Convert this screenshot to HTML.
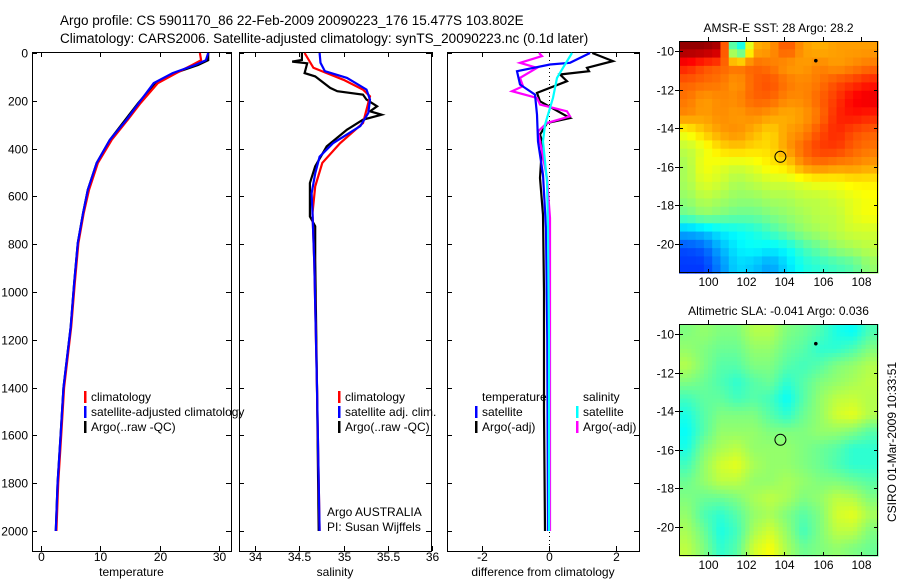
<!DOCTYPE html>
<html><head><meta charset="utf-8"><style>
body{margin:0;background:#fff;}
svg{display:block;font-family:"Liberation Sans",sans-serif;}
text{fill:#000;}
</style></head><body>
<svg id="c" width="900" height="580" xmlns="http://www.w3.org/2000/svg">
<text x="60" y="25" font-size="13.5">Argo profile: CS 5901170_86 22-Feb-2009 20090223_176 15.477S 103.802E</text>
<text x="60" y="43" font-size="13.5">Climatology: CARS2006. Satellite-adjusted climatology: synTS_20090223.nc (0.1d later)</text>
<text transform="translate(896,442) rotate(-90)" text-anchor="middle" font-size="12">CSIRO 01-Mar-2009 10:33:51</text>
</svg>
<script>
// ---- data ----
const depthTicks=[0,200,400,600,800,1000,1200,1400,1600,1800,2000];
const tempTicks=[0,10,20,30];
const salTicks=[34,34.5,35,35.5,36];
const diffTicks=[-2,0,2];
const tDepth=[0,30,50,84,126,209,280,364,460,573,670,795,962,1146,1400,1600,1800,2000];
const tempArgo=[28.2,28.2,26.5,22.5,19.3,16.4,14.2,11.6,9.4,7.9,7.1,6.2,5.6,5.0,3.8,3.3,2.8,2.5];
const tempClim=[26.8,27.0,25.5,22.8,19.7,16.8,14.6,11.9,9.6,8.1,7.2,6.3,5.7,5.1,3.9,3.4,2.9,2.6];
const tempSat=[28.2,27.8,26.0,22.2,19.0,16.5,14.4,11.6,9.4,7.9,7.1,6.2,5.6,5.0,3.8,3.3,2.8,2.5];
const sBlueD=[0,41,76,104,153,195,251,306,378,434,504,587,670,879,1400,2000];
const salSat=[34.73,34.74,34.79,35.04,35.26,35.30,35.28,35.19,34.88,34.73,34.68,34.64,34.65,34.67,34.70,34.73];
const sRedD=[0,62,84,112,153,181,223,293,378,460,558,670,879,1400,2000];
const salClim=[34.56,34.66,34.81,35.0,35.22,35.30,35.27,35.22,34.96,34.76,34.68,34.65,34.67,34.70,34.73];
const sBlkD=[0,29,36,43,84,98,146,160,174,195,223,244,258,279,321,391,474,544,684,725,865,1400,2000];
const salArgo=[34.53,34.53,34.42,34.59,34.56,34.68,34.85,34.93,35.22,35.26,35.38,35.30,35.43,35.22,35.04,34.81,34.68,34.62,34.62,34.68,34.68,34.70,34.72];
const dTBlkD=[0,34,62,76,90,118,167,202,272,293,342,370,523,677,1000,1500,2000];
const diffTArgo=[1.3,1.92,1.14,1.2,0.33,0.54,-0.36,-0.27,0.63,-0.06,-0.27,-0.2,-0.27,-0.18,-0.15,-0.15,-0.12];
const dTBluD=[0,41,48,76,132,174,258,370,509,733,1200,2000];
const diffTSat=[1.23,0.63,0.03,-0.96,-0.87,-0.42,-0.36,-0.33,-0.18,-0.09,-0.05,-0.03];
const dSMagD=[0,13,41,62,104,139,160,188,216,244,265,293,328,412,523,691,1200,2000];
const diffSArgo=[-0.3,-0.21,-0.87,-0.36,-0.87,-0.78,-1.11,-0.36,-0.27,0.54,0.63,-0.06,-0.33,-0.21,-0.06,0.03,0.03,0.03];
const dSCyaD=[0,62,104,188,230,300,370,537,733,1200,2000];
const diffSSat=[0.69,0.42,0.24,0.12,0.03,-0.12,-0.18,-0.06,-0.03,0.0,0.0];
const latTicks=[-10,-12,-14,-16,-18,-20];
const lonTicks=[100,102,104,106,108];
const sstGrid=[
[0.98,0.98,0.95,0.3,0.7,0.72,0.8,0.72,0.7,0.72,0.72,0.72],
[0.85,0.8,0.78,0.76,0.78,0.76,0.72,0.72,0.75,0.72,0.74,0.76],
[0.78,0.77,0.76,0.72,0.78,0.8,0.76,0.74,0.76,0.8,0.82,0.85],
[0.76,0.72,0.74,0.74,0.78,0.78,0.74,0.74,0.78,0.82,0.88,0.9],
[0.74,0.72,0.74,0.72,0.74,0.72,0.7,0.72,0.76,0.84,0.86,0.84],
[0.62,0.68,0.72,0.74,0.7,0.66,0.72,0.74,0.8,0.84,0.8,0.78],
[0.56,0.6,0.66,0.68,0.66,0.66,0.72,0.78,0.82,0.82,0.78,0.76],
[0.54,0.62,0.6,0.58,0.6,0.64,0.66,0.74,0.76,0.74,0.74,0.72],
[0.54,0.6,0.58,0.54,0.56,0.58,0.58,0.6,0.62,0.62,0.64,0.64],
[0.52,0.56,0.54,0.52,0.52,0.54,0.54,0.56,0.56,0.58,0.6,0.62],
[0.48,0.52,0.5,0.48,0.48,0.5,0.52,0.54,0.56,0.56,0.6,0.62],
[0.3,0.32,0.36,0.38,0.4,0.44,0.48,0.52,0.54,0.56,0.58,0.58],
[0.2,0.22,0.3,0.36,0.38,0.36,0.38,0.44,0.48,0.52,0.54,0.56],
[0.18,0.18,0.26,0.34,0.32,0.28,0.34,0.4,0.42,0.44,0.46,0.52]];
const slaGrid=[
[0.5,0.52,0.5,0.5,0.55,0.55,0.5,0.48,0.45,0.4,0.38,0.45],
[0.52,0.5,0.48,0.48,0.52,0.52,0.48,0.46,0.42,0.42,0.45,0.5],
[0.55,0.5,0.46,0.46,0.5,0.5,0.46,0.44,0.46,0.5,0.52,0.55],
[0.5,0.48,0.45,0.42,0.46,0.48,0.42,0.46,0.5,0.52,0.54,0.56],
[0.44,0.47,0.47,0.44,0.46,0.44,0.38,0.46,0.52,0.56,0.57,0.55],
[0.4,0.46,0.5,0.5,0.5,0.46,0.42,0.48,0.52,0.58,0.6,0.55],
[0.38,0.46,0.52,0.52,0.52,0.5,0.5,0.5,0.52,0.52,0.5,0.46],
[0.4,0.5,0.54,0.56,0.52,0.52,0.52,0.5,0.48,0.46,0.42,0.42],
[0.44,0.52,0.58,0.6,0.54,0.52,0.52,0.5,0.48,0.45,0.42,0.42],
[0.48,0.52,0.56,0.56,0.52,0.52,0.54,0.52,0.5,0.5,0.48,0.46],
[0.5,0.48,0.48,0.5,0.54,0.56,0.54,0.5,0.52,0.56,0.55,0.5],
[0.52,0.45,0.42,0.46,0.52,0.54,0.5,0.46,0.5,0.58,0.6,0.54],
[0.54,0.48,0.4,0.44,0.54,0.58,0.52,0.44,0.5,0.56,0.56,0.5],
[0.56,0.5,0.42,0.46,0.58,0.62,0.54,0.48,0.5,0.52,0.5,0.48]];
const floatLon=103.8, floatLat=-15.48;

// ---- drawing ----
const NS='http://www.w3.org/2000/svg';
const svg=document.getElementById('c');
function mk(tag,attrs,parent){const e=document.createElementNS(NS,tag);for(const k in attrs)e.setAttribute(k,attrs[k]);(parent||svg).appendChild(e);return e;}
const Y0=53, YS=0.239, TOP=52, BOT=551;
const yD=d=>Y0+d*YS;
const panels=[
 {name:'temperature',x0:32,x1:231,f:v=>41+5.93*v,ticks:tempTicks,label:'temperature'},
 {name:'salinity',x0:239,x1:431,f:v=>255+88.5*(v-34),ticks:salTicks,label:'salinity'},
 {name:'difference',x0:447,x1:639,f:v=>549+33.3*v,ticks:diffTicks,label:'difference from climatology'}];
panels.forEach((p,i)=>{
 const g=mk('g',{});
 
 
 const r=mk('rect',{x:p.x0+0.5,y:TOP+0.5,width:p.x1-p.x0,height:BOT-TOP,fill:'none',stroke:'#000','stroke-width':1},g);
 
 
 depthTicks.forEach(d=>{const y=Math.round(yD(d))+0.5;
  mk('line',{x1:p.x0,x2:p.x0+5,y1:y,y2:y,stroke:'#000'},g);
  mk('line',{x1:p.x1-5,x2:p.x1,y1:y,y2:y,stroke:'#000'},g);
  if(i==0){const t=mk('text',{x:28,y:y+4,'text-anchor':'end','font-size':12},g);t.textContent=d;
   
   }
 });
 p.ticks.forEach(v=>{const x=Math.round(p.f(v))+0.5;
  mk('line',{x1:x,x2:x,y1:TOP,y2:TOP+5,stroke:'#000'},g);
  mk('line',{x1:x,x2:x,y1:BOT-5,y2:BOT,stroke:'#000'},g);
  const t=mk('text',{x:x,y:561,'text-anchor':'middle','font-size':12},g);t.textContent=v;
  
  
 });
 const t=mk('text',{x:(p.x0+p.x1)/2,y:576,'text-anchor':'middle','font-size':12},g);t.textContent=p.label;
 
 
});
const zl=mk('line',{x1:549.5,x2:549.5,y1:TOP,y2:BOT,stroke:'#000','stroke-dasharray':'1,3'});


function series(depths,vals,f,color,name){
 const pts=depths.map((d,k)=>f(vals[k]).toFixed(1)+','+yD(d).toFixed(1)).join(' ');
 const l=mk('polyline',{points:pts,fill:'none',stroke:color,'stroke-width':2.2,'stroke-linejoin':'miter'});
 
 
}
const fT=panels[0].f,fS=panels[1].f,fD=panels[2].f;
series(tDepth,tempArgo,fT,'#000','temp-argo-line');
series(tDepth,tempClim,fT,'#f00','temp-climatology-line');
series(tDepth,tempSat,fT,'#00f','temp-satellite-line');
series(sBlkD,salArgo,fS,'#000','sal-argo-line');
series(sRedD,salClim,fS,'#f00','sal-climatology-line');
series(sBlueD,salSat,fS,'#00f','sal-satellite-line');
series(dTBlkD,diffTArgo,fD,'#000','diff-temp-argo-line');
series(dSMagD,diffSArgo,fD,'#f0f','diff-sal-argo-line');
series(dTBluD,diffTSat,fD,'#00f','diff-temp-satellite-line');
series(dSCyaD,diffSSat,fD,'#0ff','diff-sal-satellite-line');
function leg(x,y,color,label,name){
 const g=mk('g',{});
 
 
 if(color)mk('rect',{x:x,y:y-10,width:2.5,height:12,fill:color},g);
 const t=mk('text',{x:x+(color?7:0),y:y,'font-size':12},g);t.textContent=label;
}
leg(84,401,'#f00','climatology','legend-climatology');
leg(84,416,'#00f','satellite-adjusted climatology','legend-satellite-adjusted');
leg(84,431,'#000','Argo(..raw -QC)','legend-argo');
leg(338,401,'#f00','climatology','legend-sal-climatology');
leg(338,416,'#00f','satellite adj. clim.','legend-sal-satellite');
leg(338,431,'#000','Argo(..raw -QC)','legend-sal-argo');
leg(482,401,null,'temperature','legend-temperature-header');
leg(475,416,'#00f','satellite','legend-diff-temp-satellite');
leg(475,431,'#000','Argo(-adj)','legend-diff-temp-argo');
leg(583,401,null,'salinity','legend-salinity-header');
leg(576,416,'#0ff','satellite','legend-diff-sal-satellite');
leg(576,431,'#f0f','Argo(-adj)','legend-diff-sal-argo');
leg(327,516,null,'Argo AUSTRALIA','float-program-label');
leg(327,531,null,'PI: Susan Wijffels','pi-label');
function jet(v){const c=x=>Math.round(255*Math.max(0,Math.min(1,x)));
 return 'rgb('+c(1.5-Math.abs(4*v-3))+','+c(1.5-Math.abs(4*v-2))+','+c(1.5-Math.abs(4*v-1))+')';}
const LON0=98.5,LON1=108.9,LAT0=-9.48,LAT1=-21.5;
function drawMap(grid,top,title,name,sub){
 const X0=679,X1=878,Y1=top,Y2=top+232;
 const lx=lon=>X0+(lon-LON0)/(LON1-LON0)*(X1-X0);
 const ly=lat=>Y1+(lat-LAT0)/(LAT1-LAT0)*(Y2-Y1);
 const g=mk('g',{});
 
 
 const R=grid.length,C=grid[0].length;
 const SR=R*sub,SC=C*sub,cw=(X1-X0)/SC,ch=(Y2-Y1)/SR;
 for(let i=0;i<SR;i++)for(let j=0;j<SC;j++){
  const gy=Math.max(0,Math.min(R-1,(i+0.5)/sub-0.5)),gx=Math.max(0,Math.min(C-1,(j+0.5)/sub-0.5));
  const i0=Math.floor(gy),j0=Math.floor(gx),i1=Math.min(R-1,i0+1),j1=Math.min(C-1,j0+1),fy=gy-i0,fx=gx-j0;
  const v=sub==1?grid[i][j]:(grid[i0][j0]*(1-fx)*(1-fy)+grid[i0][j1]*fx*(1-fy)+grid[i1][j0]*(1-fx)*fy+grid[i1][j1]*fx*fy);
  const r=mk('rect',{x:(X0+j*cw).toFixed(2),y:(Y1+i*ch).toFixed(2),width:(cw+0.6).toFixed(2),height:(ch+0.6).toFixed(2),fill:jet(v)},g);
  
  
 }
 mk('rect',{x:X0+0.5,y:Y1+0.5,width:X1-X0-1,height:Y2-Y1-1,fill:'none',stroke:'#000'},g);
 latTicks.forEach(l=>{const y=Math.round(ly(l))+0.5;
  mk('line',{x1:X0,x2:X0+4,y1:y,y2:y,stroke:'#000'},g);mk('line',{x1:X1-4,x2:X1,y1:y,y2:y,stroke:'#000'},g);
  mk('line',{x1:X0-4,x2:X0,y1:y,y2:y,stroke:'#000'},g);
  const t=mk('text',{x:674,y:y+4,'text-anchor':'end','font-size':12},g);t.textContent=l;
  
  });
 lonTicks.forEach(l=>{const x=Math.round(lx(l))+0.5;
  mk('line',{x1:x,x2:x,y1:Y1-4,y2:Y1,stroke:'#000'},g);mk('line',{x1:x,x2:x,y1:Y2-4,y2:Y2,stroke:'#000'},g);
  const t=mk('text',{x:x,y:Y2+13,'text-anchor':'middle','font-size':12},g);t.textContent=l;
  
  });
 const c=mk('circle',{cx:lx(floatLon),cy:ly(floatLat),r:5.5,fill:'none',stroke:'#000','stroke-width':1},g);
 
 
 mk('circle',{cx:lx(105.65),cy:ly(-10.5),r:1.8,fill:'#000'},g);
 const t=mk('text',{x:(X0+X1)/2,y:Y1-9,'text-anchor':'middle','font-size':12},g);t.textContent=title;
 
 
}
drawMap(sstGrid,41,'AMSR-E SST: 28 Argo: 28.2','sst-map',2);
drawMap(slaGrid,324,'Altimetric SLA: -0.041  Argo: 0.036','sla-map',4);
</script>
</body></html>
